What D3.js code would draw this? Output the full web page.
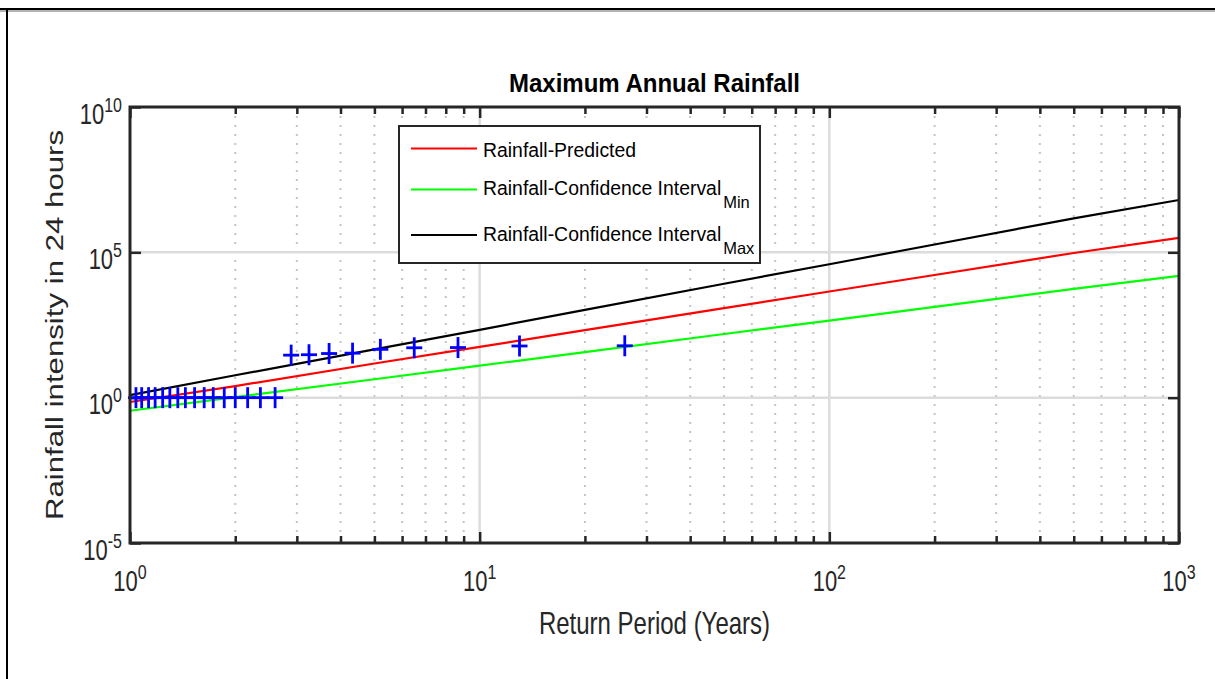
<!DOCTYPE html>
<html>
<head>
<meta charset="utf-8">
<script src="https://cdn.jsdelivr.net/npm/d3@7"></script>
<style>
  html, body { margin: 0; padding: 0; background: #fff; }
  svg { display: block; font-family: "Liberation Sans", Arial, Helvetica, sans-serif; }
</style>
</head>
<body>
<svg id="chart" width="1215" height="679"></svg>
<script>
// Observed annual maxima, plotted at Weibull return periods T = (n + 1) / m
const observedPeriods = [26, 13, 8.67, 6.5, 5.2, 4.33, 3.71, 3.25, 2.89,
  2.6, 2.36, 2.17, 2.0, 1.86, 1.73, 1.63, 1.53, 1.44, 1.37, 1.3, 1.24, 1.18, 1.13, 1.08, 1.04];
const observedRain = [61, 60, 53, 52, 46, 34, 33, 30, 29,
  1, 1, 1, 1, 1, 1, 1, 1, 1, 1, 1, 1, 1, 1, 1, 1];

// Fitted curve and its confidence band
const curvePeriods = [1, 2, 5, 10, 20, 50, 100, 200, 500, 1000];
const rainPredicted = [0.71, 2.5, 15, 56, 210, 1200, 4500, 16600, 95000, 316000];
const rainCiMin = [0.355, 1.05, 4.3, 12.6, 37, 155, 450, 1320, 5500, 15500];
const rainCiMax = [1.23, 5.9, 46, 215, 1050, 8300, 39000, 186000, 1480000, 6300000];

// Axis ticks
const xMajorTicks = [1, 10, 100, 1000];
const xMajorExp = ["0", "1", "2", "3"];
const xMinorTicks = [2, 3, 4, 5, 6, 7, 8, 9, 20, 30, 40, 50, 60, 70, 80, 90, 200, 300, 400, 500, 600, 700, 800, 900];
const yMajorTicks = [1e-5, 1, 1e5, 1e10];
const yMajorExp = ["-5", "0", "5", "10"];

const legendItems = [
  { label: "Rainfall-Predicted", sub: "", color: "#ff0000" },
  { label: "Rainfall-Confidence Interval", sub: "Min", color: "#00ff00" },
  { label: "Rainfall-Confidence Interval", sub: "Max", color: "#000000" }
];

const svg = d3.select("#chart");
const axisColor = "#262626";
const plotL = 130, plotR = 1179, plotT = 107, plotB = 543;

const x = d3.scaleLog().domain([1, 1000]).range([plotL, plotR]);
const y = d3.scaleLog().domain([1e-5, 1e10]).range([plotB, plotT]);

// Figure frame edges
svg.append("line").attr("x1", 0).attr("x2", 1215).attr("y1", 9).attr("y2", 9)
  .attr("stroke", "#000").attr("stroke-width", 2);
svg.append("line").attr("x1", 0).attr("x2", 1215).attr("y1", 11).attr("y2", 11)
  .attr("stroke", "#9a9a9a").attr("stroke-width", 1.5);
svg.append("line").attr("x1", 7).attr("x2", 7).attr("y1", 9).attr("y2", 679)
  .attr("stroke", "#000").attr("stroke-width", 2);

// Plot background
svg.append("rect").attr("x", plotL).attr("y", plotT)
  .attr("width", plotR - plotL).attr("height", plotB - plotT).attr("fill", "#fff");

// Minor dotted grid on x
svg.append("g").selectAll("line").data(xMinorTicks).join("line")
  .attr("x1", d => x(d)).attr("x2", d => x(d))
  .attr("y1", plotT).attr("y2", plotB)
  .attr("stroke", "#c4c4c4").attr("stroke-width", 2)
  .attr("stroke-dasharray", "2,7");

// Major solid grid
svg.append("g").selectAll("line").data([10, 100]).join("line")
  .attr("x1", d => x(d)).attr("x2", d => x(d))
  .attr("y1", plotT).attr("y2", plotB)
  .attr("stroke", "#dcdcdc").attr("stroke-width", 2.5);
svg.append("g").selectAll("line").data([1, 1e5]).join("line")
  .attr("x1", plotL).attr("x2", plotR)
  .attr("y1", d => y(d)).attr("y2", d => y(d))
  .attr("stroke", "#dcdcdc").attr("stroke-width", 2.5);

// Tick marks via d3 axes (inward)
function styleAxis(g) {
  g.select(".domain").remove();
  g.selectAll(".tick line").attr("stroke", axisColor).attr("stroke-width", 2.5);
  g.selectAll(".tick text").remove();
}
svg.append("g").attr("transform", `translate(0,${plotB})`)
  .call(d3.axisBottom(x).tickValues(xMajorTicks).tickSize(-11).tickFormat("")).call(styleAxis);
svg.append("g").attr("transform", `translate(0,${plotB})`)
  .call(d3.axisBottom(x).tickValues(xMinorTicks).tickSize(-7).tickFormat("")).call(styleAxis);
svg.append("g").attr("transform", `translate(0,${plotT})`)
  .call(d3.axisTop(x).tickValues(xMajorTicks).tickSize(-11).tickFormat("")).call(styleAxis);
svg.append("g").attr("transform", `translate(0,${plotT})`)
  .call(d3.axisTop(x).tickValues(xMinorTicks).tickSize(-7).tickFormat("")).call(styleAxis);
svg.append("g").attr("transform", `translate(${plotL},0)`)
  .call(d3.axisLeft(y).tickValues(yMajorTicks).tickSize(-11).tickFormat("")).call(styleAxis);
svg.append("g").attr("transform", `translate(${plotR},0)`)
  .call(d3.axisRight(y).tickValues(yMajorTicks).tickSize(-11).tickFormat("")).call(styleAxis);

// Curves
const line = d3.line().x(d => x(d[0])).y(d => y(d[1]));
const curves = [
  { values: rainPredicted, color: "#ff0000" },
  { values: rainCiMin, color: "#00ff00" },
  { values: rainCiMax, color: "#000000" }
];
svg.append("g").selectAll("path").data(curves).join("path")
  .attr("d", c => line(curvePeriods.map((t, i) => [t, c.values[i]])))
  .attr("fill", "none").attr("stroke", c => c.color).attr("stroke-width", 2.2);

// Observed points as plus markers
const obs = observedPeriods.map((t, i) => ({ t, v: observedRain[i] }));
const marks = svg.append("g").attr("stroke", "#0000ff").attr("stroke-width", 2.8);
marks.selectAll(".h").data(obs).join("line").attr("class", "h")
  .attr("x1", d => x(d.t) - 8).attr("x2", d => x(d.t) + 8)
  .attr("y1", d => y(d.v)).attr("y2", d => y(d.v));
marks.selectAll(".v").data(obs).join("line").attr("class", "v")
  .attr("x1", d => x(d.t)).attr("x2", d => x(d.t))
  .attr("y1", d => y(d.v) - 10.5).attr("y2", d => y(d.v) + 10.5);

// Axes box
svg.append("rect").attr("x", plotL).attr("y", plotT)
  .attr("width", plotR - plotL).attr("height", plotB - plotT)
  .attr("fill", "none").attr("stroke", axisColor).attr("stroke-width", 3);

// Tick labels: 10 with superscript exponent
const stretch = 1.3;
function powerLabel(g, exp, anchor) {
  const t = g.append("text").attr("text-anchor", anchor).attr("fill", axisColor)
    .style("font-size", "22px");
  t.append("tspan").text("10");
  t.append("tspan").attr("dy", -9).style("font-size", "16px").text(exp);
}
xMajorTicks.forEach((v, i) => {
  const g = svg.append("g").attr("transform", `translate(${x(v)},591) scale(1,${stretch})`);
  powerLabel(g, xMajorExp[i], "middle");
});
yMajorTicks.forEach((v, i) => {
  const g = svg.append("g").attr("transform", `translate(122,${y(v) + 16.5}) scale(1,${stretch})`);
  powerLabel(g, yMajorExp[i], "end");
});

// Axis titles
svg.append("g").attr("transform", `translate(${(plotL + plotR) / 2},634) scale(1,${stretch})`)
  .append("text").attr("text-anchor", "middle").attr("fill", axisColor)
  .style("font-size", "24px").text("Return Period (Years)");
svg.append("g").attr("transform", `translate(63,${(plotT + plotB) / 2}) rotate(-90) scale(${stretch},1)`)
  .append("text").attr("text-anchor", "middle").attr("fill", axisColor)
  .style("font-size", "24px").text("Rainfall intensity in 24 hours");

// Title
svg.append("g").attr("transform", `translate(${(plotL + plotR) / 2},92) scale(1,1.06)`)
  .append("text").attr("text-anchor", "middle").attr("fill", "#000")
  .style("font-size", "24px").style("font-weight", "bold").text("Maximum Annual Rainfall");

// Legend
const lg = svg.append("g");
lg.append("rect").attr("x", 399).attr("y", 126).attr("width", 361).attr("height", 137)
  .attr("fill", "#fff").attr("stroke", axisColor).attr("stroke-width", 2);
const rowLineY = [148.5, 189.5, 235];
const rowTextY = [157, 195, 241];
legendItems.forEach((d, i) => {
  lg.append("line").attr("x1", 411).attr("x2", 477)
    .attr("y1", rowLineY[i]).attr("y2", rowLineY[i])
    .attr("stroke", d.color).attr("stroke-width", 2.2);
  const t = lg.append("text").attr("x", 483).attr("y", rowTextY[i])
    .attr("fill", "#000").style("font-size", "19.4px");
  t.append("tspan").text(d.label);
  if (d.sub) t.append("tspan").attr("dx", 2).attr("dy", 12.5).style("font-size", "16.5px").text(d.sub);
});
</script>
</body>
</html>
